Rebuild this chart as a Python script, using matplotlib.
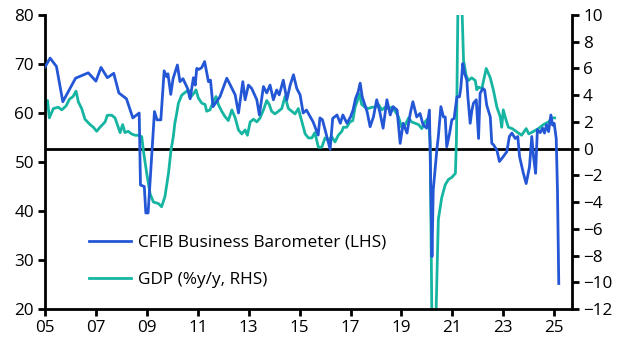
import matplotlib
matplotlib.use("Agg")
import matplotlib.pyplot as plt
import numpy as np

plt.rcParams['font.family'] = ['Open Sans', 'DejaVu Sans']

# CFIB Business Barometer (LHS) - decimal year, index
cfib_t = (
    [2005.0, 2005.2, 2005.45, 2005.7] +
    [2006.2, 2006.7] +
    [2007.0, 2007.2, 2007.45, 2007.7, 2007.9] +
    [2008.2, 2008.45, 2008.7, 2008.75, 2008.9, 2008.96] +
    [2009.05, 2009.3, 2009.4, 2009.55, 2009.68, 2009.78, 2009.83, 2009.94] +
    [2010.03, 2010.2, 2010.3, 2010.42, 2010.6, 2010.7, 2010.83, 2010.9, 2010.96] +
    [2011.05, 2011.16, 2011.27, 2011.42, 2011.5, 2011.6, 2011.87] +
    [2012.14, 2012.24, 2012.47, 2012.6, 2012.77, 2012.86, 2012.99] +
    [2013.12, 2013.32, 2013.42, 2013.58, 2013.71, 2013.84, 2013.97] +
    [2014.1, 2014.2, 2014.36, 2014.5, 2014.63, 2014.76, 2014.89] +
    [2015.02, 2015.14, 2015.27, 2015.53, 2015.73, 2015.8, 2015.9] +
    [2016.07, 2016.2, 2016.3, 2016.47, 2016.6, 2016.7, 2016.86] +
    [2017.0, 2017.1, 2017.2, 2017.3, 2017.38, 2017.46, 2017.65, 2017.77, 2017.9] +
    [2018.03, 2018.16, 2018.28, 2018.43, 2018.56, 2018.67, 2018.83, 2018.95] +
    [2019.07, 2019.22, 2019.35, 2019.45, 2019.6, 2019.73, 2019.85, 2019.99] +
    [2020.1, 2020.2, 2020.25, 2020.39, 2020.45, 2020.55, 2020.65, 2020.72, 2020.78, 2020.89, 2020.98] +
    [2021.07, 2021.18, 2021.28, 2021.33, 2021.41, 2021.48, 2021.57, 2021.61, 2021.7, 2021.77, 2021.83, 2021.94] +
    [2022.03, 2022.09, 2022.2, 2022.27, 2022.35, 2022.49, 2022.55, 2022.62, 2022.75, 2022.85] +
    [2023.0, 2023.14, 2023.24, 2023.34, 2023.47, 2023.57, 2023.64, 2023.79, 2023.9] +
    [2024.03, 2024.12, 2024.19, 2024.27, 2024.34, 2024.45, 2024.55, 2024.62, 2024.7, 2024.78, 2024.87, 2024.94, 2025.0, 2025.08, 2025.13, 2025.18]
)
cfib_v = (
    [69.4, 71.2, 69.5, 62.3] +
    [67.1, 68.2] +
    [66.5, 69.3, 67.2, 68.1, 64.1] +
    [62.9, 59.0, 60.0, 45.3, 45.0, 39.6] +
    [39.6, 60.3, 58.6, 58.6, 68.6, 67.4, 68.0, 63.8] +
    [67.0, 69.8, 66.4, 67.0, 65.0, 62.9, 67.2, 65.7, 69.1] +
    [68.9, 69.3, 70.5, 66.4, 66.7, 61.3, 63.3] +
    [67.1, 66.1, 63.7, 60.0, 66.4, 62.7, 65.7] +
    [65.0, 62.7, 59.6, 65.4, 64.1, 65.7, 62.7] +
    [64.7, 63.7, 66.7, 62.7, 65.7, 67.8, 65.0] +
    [63.7, 60.0, 60.6, 58.2, 55.5, 59.0, 58.6] +
    [55.2, 52.6, 58.9, 59.6, 57.9, 59.6, 57.9] +
    [59.2, 60.6, 63.0, 64.3, 66.1, 63.3, 60.3, 57.2, 59.2] +
    [62.7, 60.0, 56.9, 62.7, 59.6, 61.3, 60.6, 53.8] +
    [57.9, 55.9, 60.0, 62.3, 59.2, 59.9, 57.6, 56.9] +
    [60.6, 30.7, 44.3, 52.4, 55.2, 61.3, 59.2, 59.2, 53.1, 55.8, 58.6] +
    [58.9, 63.3, 63.3, 65.0, 70.1, 68.1, 66.7, 63.3, 57.9, 60.6, 62.0, 62.7] +
    [54.8, 64.0, 65.0, 64.7, 61.6, 59.2, 53.8, 53.5, 52.4, 50.1] +
    [51.1, 52.1, 55.2, 55.9, 54.8, 55.2, 51.1, 47.7, 45.6] +
    [49.0, 55.2, 51.1, 47.7, 56.6, 56.0, 56.9, 55.9, 57.6, 56.2, 59.6, 57.5, 57.9, 54.8, 44.0, 25.2]
)

# GDP (%y/y, RHS)
gdp_t = (
    [2005.0, 2005.1, 2005.17, 2005.33, 2005.52, 2005.66, 2005.83, 2005.96] +
    [2006.1, 2006.22, 2006.31, 2006.44, 2006.57, 2006.77, 2006.9] +
    [2007.03, 2007.16, 2007.36, 2007.45, 2007.62, 2007.75, 2007.88, 2007.95] +
    [2008.05, 2008.14, 2008.27, 2008.4, 2008.54, 2008.64, 2008.8, 2008.86, 2008.93] +
    [2009.0, 2009.13, 2009.26, 2009.45, 2009.58, 2009.71, 2009.85, 2009.95] +
    [2010.04, 2010.1, 2010.17, 2010.24, 2010.37, 2010.5, 2010.63, 2010.7, 2010.83, 2010.93] +
    [2011.02, 2011.16, 2011.29, 2011.35, 2011.48, 2011.61, 2011.72, 2011.81, 2011.94] +
    [2012.07, 2012.2, 2012.34, 2012.47, 2012.6, 2012.73, 2012.86, 2012.95] +
    [2013.06, 2013.19, 2013.32, 2013.45, 2013.58, 2013.71, 2013.81, 2013.9] +
    [2014.03, 2014.17, 2014.3, 2014.43, 2014.56, 2014.69, 2014.82, 2014.95] +
    [2015.05, 2015.22, 2015.35, 2015.48, 2015.6, 2015.74, 2015.87] +
    [2016.0, 2016.13, 2016.26, 2016.39, 2016.52, 2016.66, 2016.72, 2016.85, 2016.98] +
    [2017.09, 2017.18, 2017.27, 2017.35, 2017.44, 2017.57, 2017.7, 2017.84, 2017.97] +
    [2018.1, 2018.23, 2018.36, 2018.49, 2018.62, 2018.75, 2018.88] +
    [2019.01, 2019.15, 2019.28, 2019.4, 2019.54, 2019.67, 2019.8, 2019.93] +
    [2020.06, 2020.13, 2020.2, 2020.28, 2020.36, 2020.45, 2020.58, 2020.72, 2020.85, 2020.98] +
    [2021.12, 2021.16, 2021.25, 2021.34, 2021.44, 2021.54, 2021.63, 2021.76, 2021.9, 2021.96] +
    [2022.03, 2022.16, 2022.33, 2022.49, 2022.61, 2022.75, 2022.88, 2022.94] +
    [2023.0, 2023.1, 2023.2, 2023.35, 2023.5, 2023.72, 2023.9] +
    [2024.0, 2024.15, 2024.38, 2024.58, 2024.78, 2024.91, 2025.02]
)
gdp_v = (
    [3.3, 3.6, 2.3, 3.0, 3.1, 2.9, 3.2, 3.7] +
    [3.9, 4.3, 3.5, 3.0, 2.2, 1.8, 1.6] +
    [1.3, 1.6, 2.0, 2.5, 2.5, 2.3, 1.6, 1.2] +
    [1.8, 1.2, 1.3, 1.1, 1.0, 1.0, 0.9, -0.1, -1.0] +
    [-1.9, -3.4, -4.0, -4.1, -4.35, -3.6, -1.85, -0.1] +
    [0.9, 1.9, 2.6, 3.4, 4.0, 4.2, 4.4, 3.8, 4.1, 4.4] +
    [3.8, 3.4, 3.3, 2.8, 2.9, 3.5, 3.9, 3.3, 2.8] +
    [2.4, 2.1, 2.9, 2.3, 1.4, 1.1, 1.4, 1.0] +
    [2.0, 2.2, 2.0, 2.3, 2.9, 3.6, 3.3, 2.8] +
    [2.6, 2.8, 3.0, 3.9, 3.0, 2.8, 2.6, 3.0] +
    [2.3, 1.1, 0.8, 0.8, 1.2, 0.1, 0.1] +
    [0.8, 0.6, 0.9, 0.5, 1.0, 1.3, 1.6, 1.6, 2.0] +
    [2.1, 3.1, 3.6, 4.1, 3.3, 3.1, 3.0, 3.1, 3.1] +
    [3.3, 2.9, 3.1, 3.0, 3.1, 2.8, 2.4] +
    [1.6, 1.8, 2.3, 2.0, 1.9, 1.8, 1.5, 2.0] +
    [2.3, 0.4, -13.5, -14.5, -12.3, -5.3, -3.7, -2.7, -2.3, -2.15] +
    [-1.85, 0.6, 16.0, 13.0, 6.6, 5.5, 5.1, 5.3, 5.1, 4.4] +
    [4.6, 4.5, 6.0, 5.3, 4.4, 3.1, 2.4, 1.6] +
    [2.9, 2.2, 1.6, 1.5, 1.3, 1.0, 1.5] +
    [1.1, 1.25, 1.5, 1.8, 2.0, 2.3, 2.3]
)

year_ticks = list(range(2005, 2026, 2))
year_labels = ['05', '07', '09', '11', '13', '15', '17', '19', '21', '23', '25']

blue = '#2457d6'
teal = '#16b5a2'

fig = plt.figure(figsize=(6.29, 3.54), dpi=100)
ax = fig.add_axes([45/629, 45/354, 527/629, 294/354])
ax2 = ax.twinx()
ax.set_zorder(ax2.get_zorder() + 1)
ax.patch.set_visible(False)

ax2.axhline(0, color='black', lw=2.0, zorder=1)
lg, = ax2.plot(gdp_t, gdp_v, color=teal, lw=2.0, zorder=2, label='GDP (%y/y, RHS)')
lb, = ax.plot(cfib_t, cfib_v, color=blue, lw=2.0, zorder=3, label='CFIB Business Barometer (LHS)')

ax.set_xlim(2005.0, 2025.7)
ax.set_ylim(20, 80)
ax2.set_ylim(-12, 10)
ax.set_yticks(range(20, 81, 10))
ax2.set_yticks(range(-12, 11, 2))
ax.set_xticks(year_ticks)
ax.set_xticklabels(year_labels)

for a in (ax, ax2):
    for s in a.spines.values():
        s.set_linewidth(2.0)
    a.spines['top'].set_visible(False)
    a.tick_params(width=2.0, length=5, labelsize=12.3, direction='out', pad=3)
ax2.spines['left'].set_visible(False)
ax2.spines['bottom'].set_visible(False)
ax.spines['right'].set_visible(False)

leg = ax.legend(handles=[lb, lg], loc='upper left', bbox_to_anchor=(0.07, 0.276),
                frameon=False, fontsize=12.4, handlelength=2.45, handletextpad=0.38,
                labelspacing=1.25, borderaxespad=0)

fig.savefig('out.png', dpi=100)
